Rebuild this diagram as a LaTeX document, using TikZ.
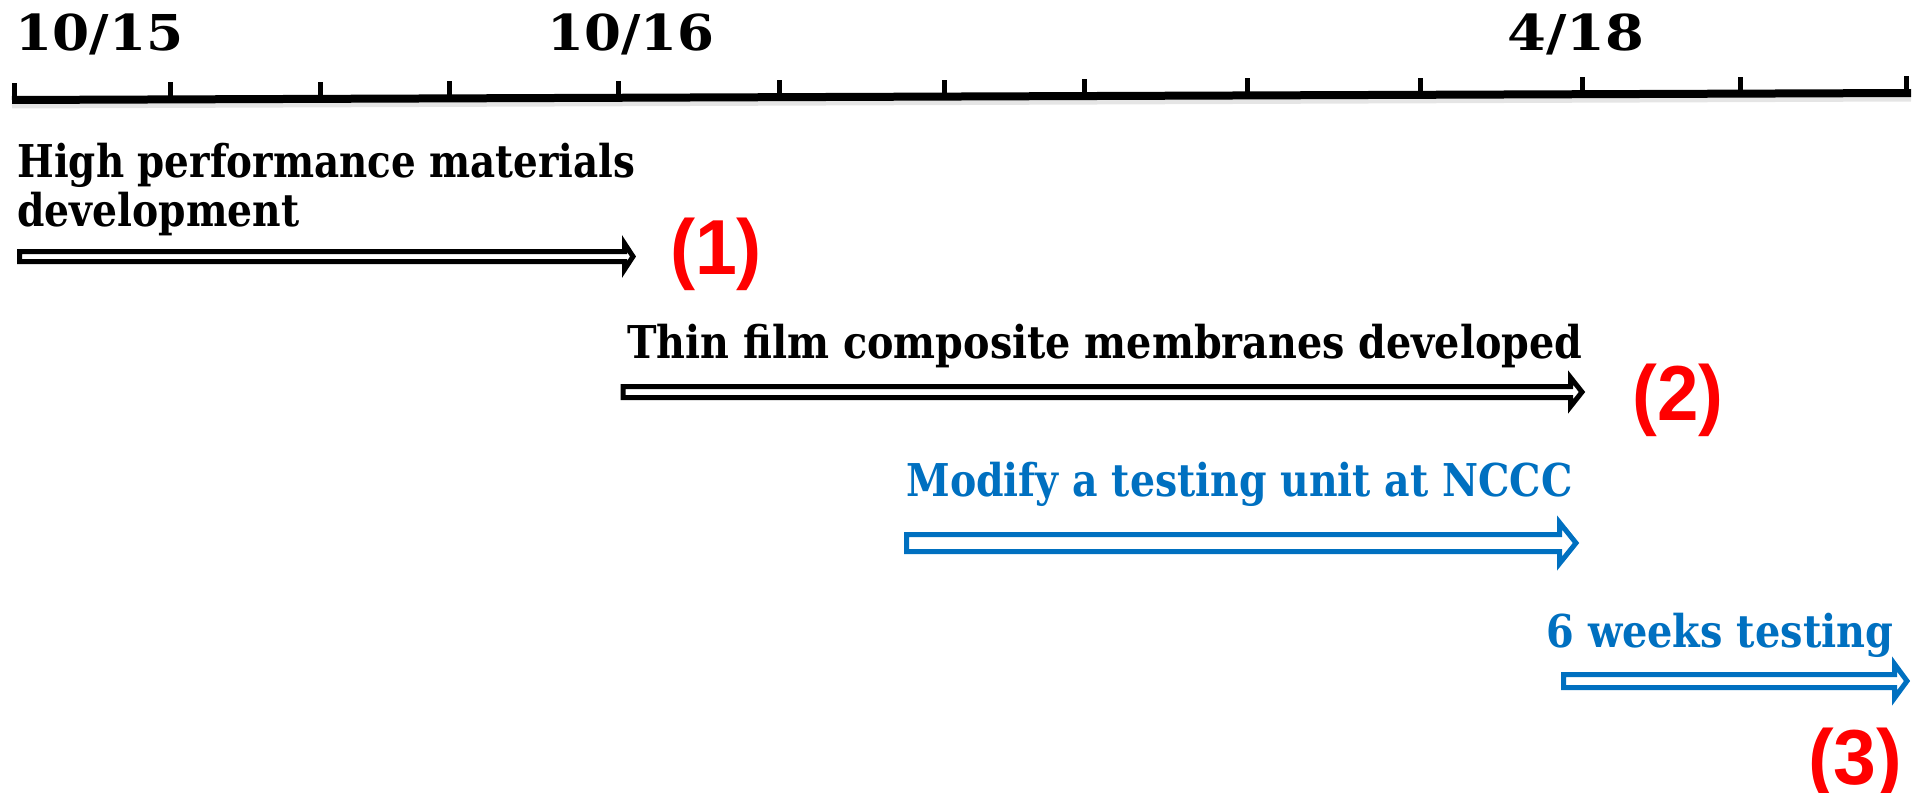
\documentclass[tikz,border=0pt]{standalone}
\usepackage{fontspec}
\setmainfont{DejaVu Serif}
\newfontfamily\numfont{Liberation Sans}
\usepackage{graphicx}
\definecolor{tlblue}{HTML}{0070C0}
\definecolor{tlred}{HTML}{FF0000}
\newcommand{\fitto}[2]{\resizebox{#1}{\height}{#2}}
\begin{document}
\begin{tikzpicture}[x=0.5pt,y=-0.5pt,
  datelbl/.style={anchor=base west, inner sep=0pt, font=\fontsize{24.7}{26}\selectfont\bfseries},
  tasklbl/.style={anchor=base west, inner sep=0pt, font=\fontsize{22.6}{24}\selectfont\bfseries},
  numlbl/.style={anchor=center, inner sep=0pt, text=tlred, font=\numfont\fontsize{39}{40}\selectfont\bfseries},
  axisline/.style={line width=4pt},
  axisshadow/.style={line width=2.5pt, draw=black!10},
  tickmark/.style={line width=2.5pt},
  hollow/.style={line width=2.5pt, fill=white, line join=miter, miter limit=10},
]
\useasboundingbox (0,0) rectangle (1915,792);

% axis
\coordinate (axL) at (12,100);
\coordinate (axR) at (1911,93);
\draw[axisshadow] ([yshift=-3pt]axL) -- ([yshift=-3pt]axR);
\draw[axisline] (axL) -- (axR);
\foreach \tx in {14,170,320,449,618,779,944,1084,1247,1420,1582,1740,1906}{
  \pgfmathsetmacro{\ty}{100-7*(\tx-12)/1899}
  \draw[tickmark] (\tx,\ty) -- (\tx,\ty-17);
}

% dates
\node[datelbl] (d1) at (15,51) {\fitto{84pt}{10/15}};
\node[datelbl] (d2) at (547,51) {\fitto{83.5pt}{10/16}};
\node[datelbl] (d3) at (1507,51) {\fitto{68.5pt}{4/18}};

% task 1
\node[tasklbl] (t1a) at (17,177) {\fitto{309pt}{High performance materials}};
\node[tasklbl] (t1b) at (17,226) {\fitto{141pt}{development}};
\draw[hollow] (19.5,251.5) -- (624.5,251.5) -- (624.5,243.5) -- (633,256.5)
  -- (624.5,269.5) -- (624.5,261.5) -- (19.5,261.5) -- cycle;
\node[numlbl] (n1) at (716,254) {\fitto{46pt}{(1)}};

% task 2
\node[tasklbl] (t2) at (627,358) {\fitto{477.5pt}{Thin film composite membranes developed}};
\draw[hollow] (623,386.5) -- (1570.5,386.5) -- (1570.5,377.5) -- (1582,392)
  -- (1570.5,406.5) -- (1570.5,397.5) -- (623,397.5) -- cycle;
\node[numlbl] (n2) at (1678,400) {\fitto{45.5pt}{(2)}};

% task 3
\node[tasklbl, text=tlblue] (t3) at (906,496) {\fitto{333pt}{Modify a testing unit at NCCC}};
\draw[hollow, draw=tlblue] (906.5,534.5) -- (1559.5,534.5) -- (1559.5,522.5) -- (1576,543)
  -- (1559.5,563.5) -- (1559.5,551.5) -- (906.5,551.5) -- cycle;

% task 4
\node[tasklbl, text=tlblue] (t4) at (1546,647) {\fitto{173.5pt}{6 weeks testing}};
\draw[hollow, draw=tlblue] (1563.5,674.5) -- (1894.5,674.5) -- (1894.5,664) -- (1907,681)
  -- (1894.5,698) -- (1894.5,687.5) -- (1563.5,687.5) -- cycle;
\node[numlbl] (n3) at (1855,764) {\fitto{47pt}{(3)}};
\end{tikzpicture}
\end{document}
